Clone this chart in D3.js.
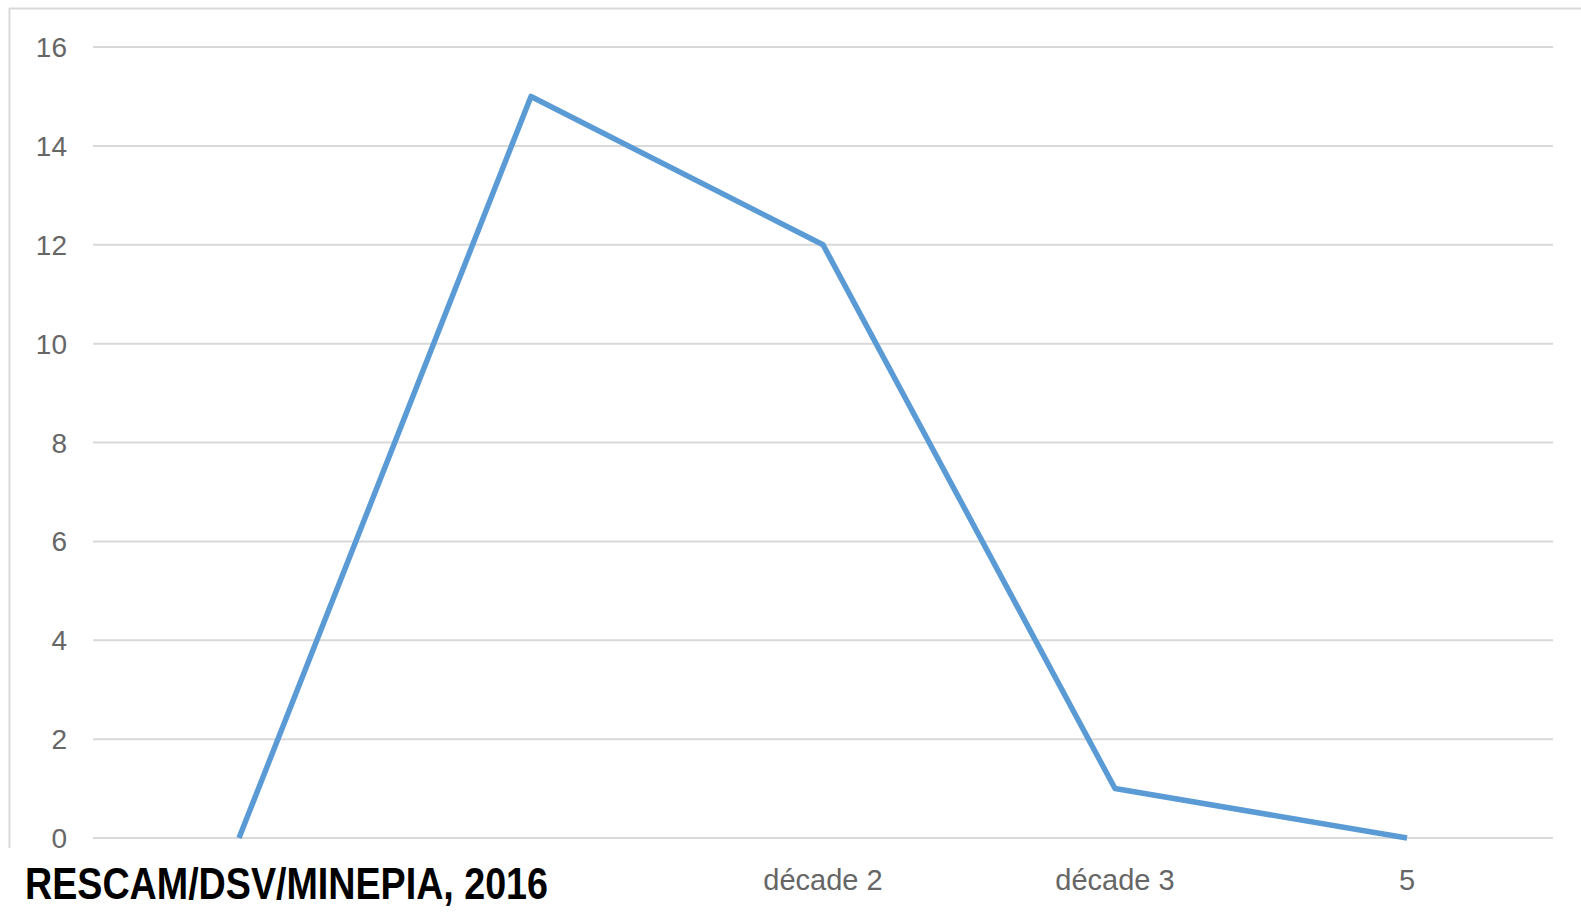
<!DOCTYPE html>
<html><head><meta charset="utf-8">
<script src="https://cdn.jsdelivr.net/npm/d3@7"></script>
<style>html,body{margin:0;padding:0;background:#fff;}svg{display:block;}</style>
</head><body>
<svg id="c" width="1581" height="916"></svg>
<script>
const categories = [0, 1, 2, 3, 4];
const xLabels = ["", "", "décade 2", "décade 3", "5"];
const values = [0, 15, 12, 1, 0];
const yTicks = [0, 2, 4, 6, 8, 10, 12, 14, 16];
const sourceText = "RESCAM/DSV/MINEPIA, 2016";

(function () {
const svg = d3.select("#c");
const mLeft = 93, mRight = 1553, mTop = 47, mBottom = 838;

// chart frame
svg.append("line").attr("x1", 9).attr("x2", 1581).attr("y1", 8.5).attr("y2", 8.5).attr("stroke", "#d9d9d9").attr("stroke-width", 2);
svg.append("line").attr("x1", 9.5).attr("x2", 9.5).attr("y1", 8).attr("y2", 860).attr("stroke", "#d9d9d9").attr("stroke-width", 2);

const x = d3.scaleBand().domain(categories).range([mLeft, mRight]);
const y = d3.scaleLinear().domain([0, 16]).range([mBottom, mTop]);

// gridlines
svg.append("g").selectAll("line").data(yTicks).join("line")
  .attr("x1", mLeft).attr("x2", mRight)
  .attr("y1", d => y(d)).attr("y2", d => y(d))
  .attr("stroke", "#d9d9d9").attr("stroke-width", 2);

// y axis labels
svg.append("g").selectAll("text").data(yTicks).join("text")
  .attr("x", 67).attr("y", d => y(d) + 10)
  .attr("text-anchor", "end")
  .attr("font-family", "Liberation Sans, Arial, sans-serif")
  .attr("font-size", 28).attr("fill", "#666")
  .text(d => d);

// x labels
svg.append("g").selectAll("text").data(categories).join("text")
  .attr("x", d => x(d) + x.bandwidth() / 2).attr("y", 890)
  .attr("text-anchor", "middle")
  .attr("font-family", "Liberation Sans, Arial, sans-serif")
  .attr("font-size", 29).attr("fill", "#666")
  .text((d, i) => xLabels[i]);

// line
const line = d3.line()
  .x((d, i) => x(categories[i]) + x.bandwidth() / 2)
  .y(d => y(d));
svg.append("path").datum(values)
  .attr("d", line)
  .attr("fill", "none").attr("stroke", "#5B9BD5")
  .attr("stroke-width", 5.5).attr("stroke-linejoin", "round").attr("stroke-linecap", "butt");

// source overlay
svg.append("rect").attr("x", 0).attr("y", 848).attr("width", 560).attr("height", 68).attr("fill", "#fff");
svg.append("text").attr("x", 25).attr("y", 899)
  .attr("font-family", "Liberation Sans Narrow, Liberation Sans, Arial, sans-serif")
  .attr("font-weight", "bold").attr("font-size", 45).attr("fill", "#000")
  .attr("textLength", 523).attr("lengthAdjust", "spacingAndGlyphs")
  .text(sourceText);
})();
</script>
</body></html>
